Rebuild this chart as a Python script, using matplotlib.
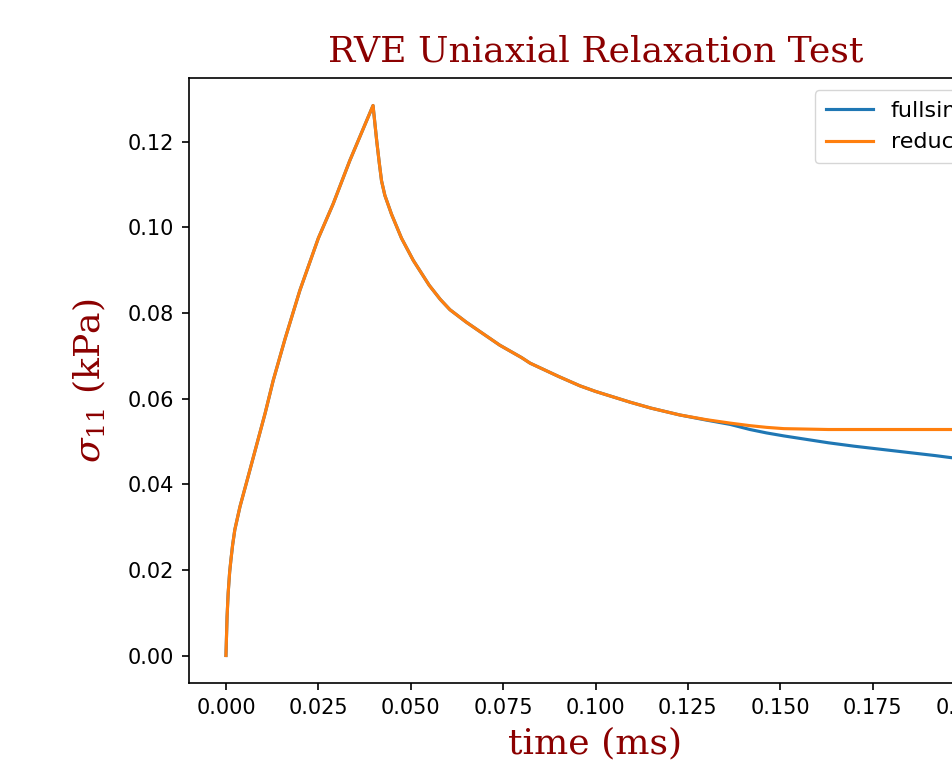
import matplotlib
matplotlib.use("Agg")
import matplotlib.pyplot as plt

plt.rcParams['mathtext.fontset'] = 'dejavuserif'

# time (ms)
time = [0.0, 0.0003, 0.0006, 0.001, 0.00135, 0.0018, 0.0024, 0.0038, 0.006, 0.0083,
        0.0106, 0.0128, 0.016, 0.020, 0.025, 0.029, 0.0335, 0.0398,
        0.0408, 0.0415, 0.0421, 0.043, 0.0448, 0.0475, 0.0507, 0.055, 0.058, 0.0606,
        0.065, 0.0687, 0.0741, 0.080, 0.0823, 0.090, 0.0958, 0.100, 0.1093,
        0.115, 0.1228, 0.130, 0.1364, 0.1418, 0.1463, 0.1510, 0.157, 0.163,
        0.170, 0.177, 0.185, 0.192, 0.200]

# sigma_11 (kPa)
fullsim = [0.0, 0.0090, 0.0146, 0.0195, 0.0224, 0.0258, 0.0294, 0.0348, 0.0418, 0.0492,
           0.0566, 0.0643, 0.0740, 0.0853, 0.0975, 0.1055, 0.1156, 0.1285,
           0.1202, 0.1150, 0.1109, 0.1075, 0.1031, 0.0975, 0.0923, 0.0865, 0.0832, 0.0808,
           0.0779, 0.0757, 0.0725, 0.0696, 0.0683, 0.0652, 0.0630, 0.0617, 0.0592,
           0.0578, 0.0562, 0.0550, 0.0540, 0.0528, 0.0520, 0.0513, 0.0505, 0.0497,
           0.0489, 0.0482, 0.0474, 0.0467, 0.0458]

reduced = [0.0, 0.0090, 0.0146, 0.0195, 0.0224, 0.0258, 0.0294, 0.0348, 0.0418, 0.0492,
           0.0566, 0.0643, 0.0740, 0.0853, 0.0975, 0.1055, 0.1156, 0.1285,
           0.1202, 0.1150, 0.1109, 0.1075, 0.1031, 0.0975, 0.0923, 0.0865, 0.0832, 0.0808,
           0.0779, 0.0757, 0.0725, 0.0696, 0.0683, 0.0652, 0.0630, 0.0617, 0.0592,
           0.0578, 0.0562, 0.0551, 0.0543, 0.0537, 0.0533, 0.0530, 0.0529, 0.0528,
           0.0528, 0.0528, 0.0528, 0.0528, 0.0528]

labels = ["fullsim", "reduced"]

fig = plt.figure(figsize=(9.52, 7.63), dpi=100)
ax = fig.add_axes([189 / 952, 1 - 683 / 763, 813 / 952, 605 / 763])

ax.plot(time, fullsim, color='#1f77b4', lw=2.25, label=labels[0])
ax.plot(time, reduced, color='#ff7f0e', lw=2.25, label=labels[1])

ax.set_xticks([0.0, 0.025, 0.05, 0.075, 0.1, 0.125, 0.15, 0.175, 0.2])
ax.set_yticks([0.0, 0.02, 0.04, 0.06, 0.08, 0.10, 0.12])
ax.tick_params(labelsize=15, length=5, width=1.2, pad=6)
for s in ax.spines.values():
    s.set_linewidth(1.2)

tfont = dict(family='serif', color='darkred', size=26)
ax.set_title("RVE Uniaxial Relaxation Test", fontdict=tfont, pad=12)
ax.set_xlabel("time (ms)", fontdict=tfont, labelpad=6)
ax.set_ylabel(r"$\sigma_{11}$ (kPa)", fontdict=tfont, labelpad=14)

ax.legend(fontsize=16, loc='upper left', bbox_to_anchor=(0.770, 0.980),
          borderaxespad=0, handlelength=2.1, borderpad=0.5)

fig.savefig("out.png", dpi=100)
